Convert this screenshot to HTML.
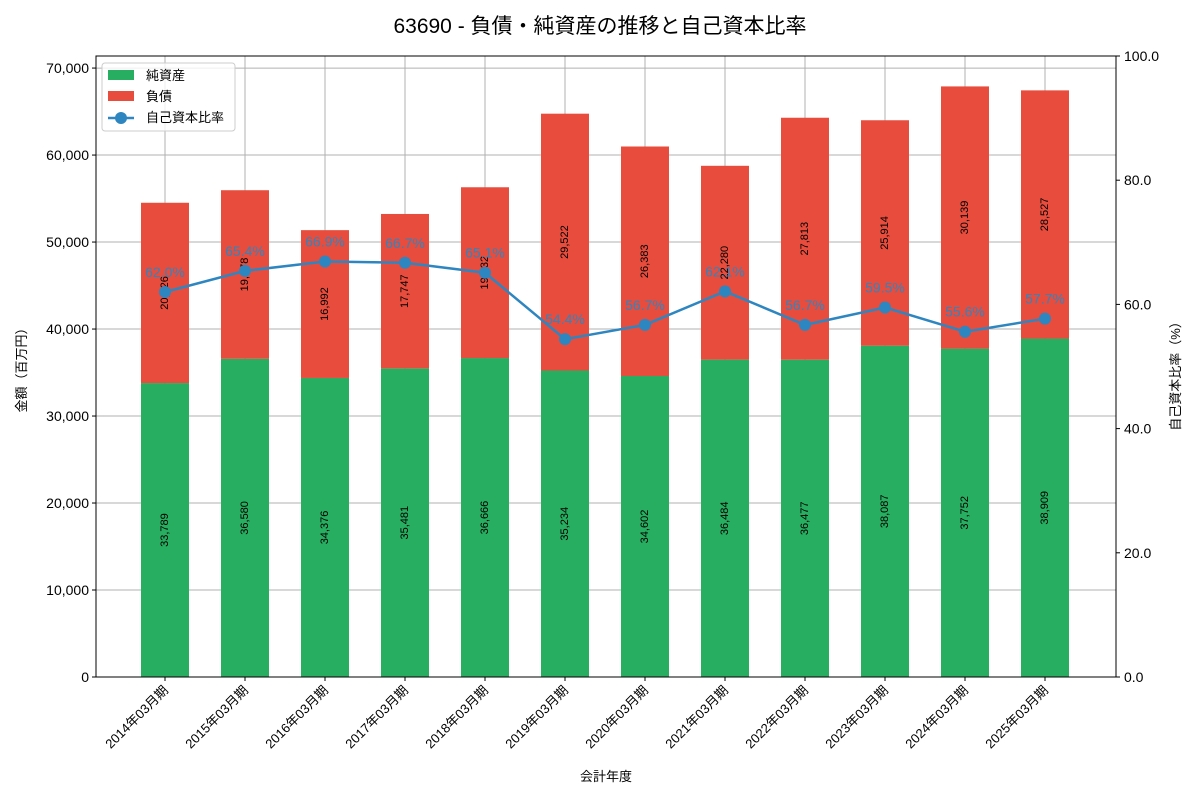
<!DOCTYPE html>
<html><head><meta charset="utf-8"><style>
body{margin:0;background:#fff;}
svg text{font-family:"Liberation Sans","Noto Sans CJK JP",sans-serif;}
</style></head><body>
<svg id="c" width="1200" height="800" xmlns="http://www.w3.org/2000/svg">
<text x="600" y="33" text-anchor="middle" font-size="21" fill="#000">63690 - 負債・純資産の推移と自己資本比率</text>
<g id="grid"></g><g id="bars"></g><g id="line"></g><g id="axes"></g>
</svg>
<script>
const categories=["2014年03月期","2015年03月期","2016年03月期","2017年03月期","2018年03月期","2019年03月期","2020年03月期","2021年03月期","2022年03月期","2023年03月期","2024年03月期","2025年03月期"];
const equity=[33789,36580,34376,35481,36666,35234,34602,36484,36477,38087,37752,38909];
const debt=[20726,19378,16992,17747,19632,29522,26383,22280,27813,25914,30139,28527];
const ratio=[62.0,65.4,66.9,66.7,65.1,54.4,56.7,62.1,56.7,59.5,55.6,57.7];
const leftTicks=[0,10000,20000,30000,40000,50000,60000,70000];
const rightTicks=[0,20,40,60,80,100];
const NS="http://www.w3.org/2000/svg";
const L=96,R=1116,T=56,B=677;
const yMax=71387;
const x=i=>L+(i+0.8625)*80;
const y=v=>B-v/yMax*(B-T);
const y2=v=>B-v/100*(B-T);
function mk(p,tag,a,txt){const e=document.createElementNS(NS,tag);for(const k in a)e.setAttribute(k,a[k]);if(txt!=null)e.textContent=txt;document.getElementById(p).appendChild(e);return e;}
const fmt=v=>v.toLocaleString('en-US');
// grid
leftTicks.forEach(t=>{const e=mk('grid','line',{x1:L,x2:R,y1:y(t),y2:y(t),stroke:'#b0b0b0','stroke-width':1});

});
categories.forEach((c,i)=>{const e=mk('grid','line',{x1:x(i),x2:x(i),y1:T,y2:B,stroke:'#b0b0b0','stroke-width':1});

});
// bars
categories.forEach((c,i)=>{
 const w=48;
 let e=mk('bars','rect',{x:x(i)-w/2,y:y(equity[i]),width:w,height:B-y(equity[i]),fill:'#27ae60'});
 
 
 e=mk('bars','rect',{x:x(i)-w/2,y:y(equity[i]+debt[i]),width:w,height:y(equity[i])-y(equity[i]+debt[i]),fill:'#e74c3c'});
 
 
 const ey=(y(0)+y(equity[i]))/2, dy=(y(equity[i])+y(equity[i]+debt[i]))/2;
 e=mk('bars','text',{x:x(i),y:ey,'font-size':11,'text-anchor':'middle','dominant-baseline':'central',transform:`rotate(-90 ${x(i)} ${ey})`},fmt(equity[i]));
 
 
 e=mk('bars','text',{x:x(i),y:dy,'font-size':11,'text-anchor':'middle','dominant-baseline':'central',transform:`rotate(-90 ${x(i)} ${dy})`},fmt(debt[i]));
 
 
});
// line
const pts=ratio.map((r,i)=>x(i)+','+y2(r)).join(' ');
let pl=mk('line','polyline',{points:pts,fill:'none',stroke:'#2e86c1','stroke-width':2.5});


ratio.forEach((r,i)=>{
 let e=mk('line','circle',{cx:x(i),cy:y2(r),r:6,fill:'#2e86c1'});
 
 
 e=mk('line','text',{x:x(i),y:y2(r)-15,'font-size':14,'text-anchor':'middle',fill:'#2e86c1'},r.toFixed(1)+'%');
 
 
});
// axes
let f=mk('axes','rect',{x:L,y:T,width:R-L,height:B-T,fill:'none',stroke:'#000','stroke-width':1});


leftTicks.forEach(t=>{mk('axes','line',{x1:L-4,x2:L,y1:y(t),y2:y(t),stroke:'#000'});
 const e=mk('axes','text',{x:L-7,y:y(t)+5,'font-size':14,'text-anchor':'end'},fmt(t));
 
 });
rightTicks.forEach(t=>{mk('axes','line',{x1:R,x2:R+4,y1:y2(t),y2:y2(t),stroke:'#000'});
 const e=mk('axes','text',{x:R+8,y:y2(t)+5,'font-size':14},t.toFixed(1));
 
 });
categories.forEach((c,i)=>{mk('axes','line',{x1:x(i),x2:x(i),y1:B,y2:B+4,stroke:'#000'});
 const e=mk('axes','text',{x:x(i)+4,y:B+14,'font-size':13,'text-anchor':'end',transform:`rotate(-45 ${x(i)+4} ${B+14})`},c);
 
 });
</script>
<svg style="position:absolute;left:0;top:0" width="1200" height="800" xmlns="http://www.w3.org/2000/svg">
<text x="606" y="781" text-anchor="middle" font-size="13">会計年度</text>
<text x="26" y="367" text-anchor="middle" font-size="13" transform="rotate(-90 26 367)">金額（百万円）</text>
<text x="1180" y="373" text-anchor="middle" font-size="13" transform="rotate(-90 1180 373)">自己資本比率（%）</text>
<g>
<rect x="102" y="63" width="133" height="68" fill="#fff" fill-opacity="0.8" stroke="#ccc" rx="3"/>
<rect x="108" y="70" width="26" height="10" fill="#27ae60"/>
<text x="146" y="80" font-size="13">純資産</text>
<rect x="108" y="91" width="26" height="10" fill="#e74c3c"/>
<text x="146" y="101" font-size="13">負債</text>
<line x1="108" x2="134" y1="118" y2="118" stroke="#2e86c1" stroke-width="2.5"/>
<circle cx="121" cy="118" r="6" fill="#2e86c1"/>
<text x="146" y="122" font-size="13">自己資本比率</text>
</g>
</svg>
</body></html>
